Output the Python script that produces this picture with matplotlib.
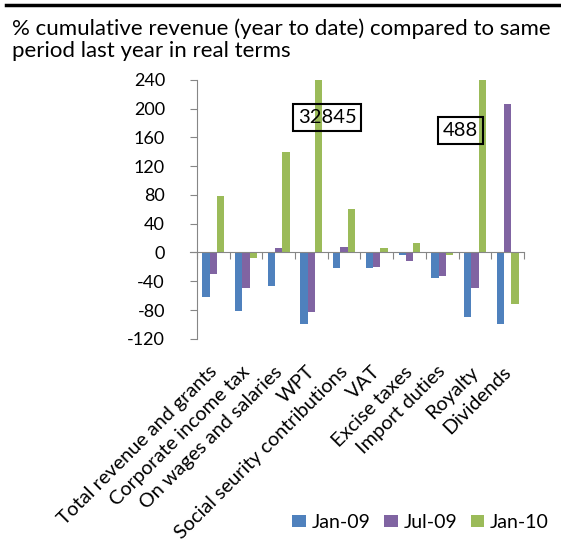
import numpy as np
import matplotlib.pyplot as plt

# categories and series (% change vs same period last year, real terms)
categories = ['Total revenue and grants', 'Corporate income tax', 'On wages and salaries',
              'WPT', 'Social seurity contributions', 'VAT', 'Excise taxes',
              'Import duties', 'Royalty', 'Dividends']
jan09 = [-62, -82, -47, -100, -21, -21, -4, -35, -89, -100]
jul09 = [-30, -50, 6, -83, 7, -20, -12, -33, -49, 206]
jan10 = [78, -7, 140, 32845, 60, 6, 13, -4, 488, -72]
series_names = ['Jan-09', 'Jul-09', 'Jan-10']
colors = ['#4F81BD', '#8064A2', '#9BBB59']
yticks = list(range(-120, 241, 40))

plt.rcParams['font.family'] = ['Lato', 'DejaVu Sans']
plt.rcParams['axes.unicode_minus'] = False

fig = plt.figure(figsize=(5.61, 5.43), dpi=100)
ax = fig.add_axes([0.351, 0.376, 0.583, 0.477])

# Excel-style clustered bars: gap width 150%
n = len(categories)
x = np.arange(n) + 0.5
w = 1 / 4.5
for i, (vals, name, c) in enumerate(zip([jan09, jul09, jan10], series_names, colors)):
    ax.bar(x + (i - 1) * w, vals, width=w, color=c, label=name)

ax.set_xlim(0, n)
ax.set_ylim(-120, 240)
ax.set_yticks(yticks)
ax.tick_params(axis='y', labelsize=13, length=5, color='#868686', pad=18)
ax.set_xticks(np.arange(n + 1))
ax.set_xticklabels([])
ax.tick_params(axis='x', length=5, color='#868686', direction='out')

for s in ['top', 'right']:
    ax.spines[s].set_visible(False)
ax.spines['left'].set_color('#868686')
ax.spines['bottom'].set_color('#868686')
ax.spines['bottom'].set_position(('data', 0))
ax.spines['bottom'].set_bounds(-0.2, n)
ax.spines['bottom'].set_clip_on(False)

# category labels below the plot area
trans = ax.get_xaxis_transform()
for xi, lab in zip(x, categories):
    ax.text(xi - 0.16, -0.093, lab, transform=trans, rotation=45, rotation_mode='anchor',
            ha='right', va='top', fontsize=14.3)

# values too large for the axis
box = dict(boxstyle='square,pad=0.25', fc='none', ec='black', lw=1.5)
ax.text(3.98, 188, '32845', ha='center', va='center', fontsize=14.5, bbox=box)
ax.text(8.05, 169, '488', ha='center', va='center', fontsize=14.5, bbox=box)

fig.text(0.021, 0.966, '% cumulative revenue (year to date) compared to same\nperiod last year in real terms',
         ha='left', va='top', fontsize=16, linespacing=1.12)
fig.add_artist(plt.Line2D([0.01, 1], [0.991, 0.991], color='black', lw=2.5))

fig.legend(loc='center right', bbox_to_anchor=(0.996, 0.038), ncol=3, frameon=False,
           borderpad=0, fontsize=14, handlelength=0.68, handleheight=0.62,
           handletextpad=0.3, columnspacing=0.72)

fig.savefig('out.png', dpi=100)
